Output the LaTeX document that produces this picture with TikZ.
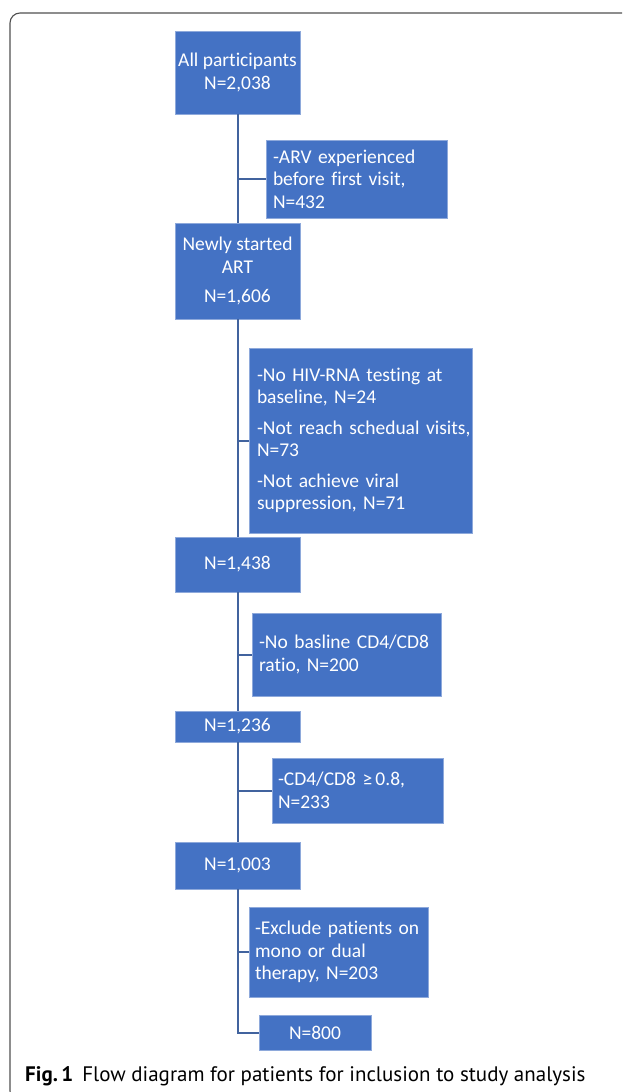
\documentclass[tikz,border=0pt]{standalone}
\usepackage{fontspec}
\setmainfont{Carlito}[Ligatures={NoCommon}]
\newfontfamily\capfont{PT Sans}
\definecolor{boxblue}{HTML}{4472C4}
\definecolor{boxedge}{HTML}{8EA9DB}
\definecolor{linkblue}{HTML}{41639E}
\definecolor{framegray}{HTML}{505050}
\hyphenpenalty=10000
\exhyphenpenalty=10000
\tikzset{
  flowbox/.style={rectangle, fill=boxblue, draw=boxedge, line width=0.7pt, inner sep=0pt,
    text=white, font=\fontsize{19.5}{22.5}\selectfont, align=center},
  notebox/.style={flowbox, align=left},
  link/.style={draw=linkblue, line width=2pt},
}
\begin{document}
\begin{tikzpicture}[x=1pt,y=-1pt]
\useasboundingbox (0,0) rectangle (622,1092);
\clip (0,0) rectangle (622,1092);
% frame
\draw[framegray, line width=1.1pt, rounded corners=10pt] (640,1101) -- (10,1101) -- (10,13) -- (640,13);

% main column
\node[flowbox, minimum width=125pt, minimum height=83pt] (b1) at (237.5,72.5) {All participants\\N=2,038};
\node[flowbox, minimum width=125pt, minimum height=96pt] (b3) at (237.5,271) {Newly started\\ART\\[7pt]N=1,606};
\node[flowbox, minimum width=125pt, minimum height=55pt] (b5) at (237.5,564.5) {N=1,438};
\node[flowbox, minimum width=125pt, minimum height=31pt] (b7) at (237.5,726.5) {N=1,236};
\node[flowbox, minimum width=125pt, minimum height=47pt] (b9) at (237.5,865.5) {N=1,003};
\node[flowbox, minimum width=112pt, minimum height=35pt] (b11) at (315,1032.5) {N=800};

% exclusion boxes
\node[notebox, minimum width=181pt, minimum height=78pt, text width=167pt] (b2) at (356.5,179)
  {-ARV experienced\\before first visit,\\N=432};
\node[notebox, minimum width=223pt, minimum height=185pt, text width=207pt] (b4) at (360.5,440.5)
  {\mbox{-No HIV-RNA testing at}\\\mbox{baseline, N=24}\\[8pt]\mbox{-Not reach schedual visits,}\\N=73\\[8pt]\mbox{-Not achieve viral}\\\mbox{suppression, N=71}};
\node[notebox, minimum width=189pt, minimum height=83pt, text width=175pt] (b6) at (346.5,654.5)
  {-No basline CD4/CD8\\ratio, N=200};
\node[notebox, minimum width=171pt, minimum height=65pt, text width=159pt] (b8) at (357.5,790.5)
  {-CD4/CD8 ≥\,0.8,\\N=233};
\node[notebox, minimum width=179pt, minimum height=90pt, text width=167pt] (b10) at (338.5,952)
  {-Exclude patients on\\mono or dual\\therapy, N=203};

% connectors
\draw[link] (b1.south) -- (b3.north);
\draw[link] (b1.south |- b2.west) -- (b2.west);
\draw[link] (b3.south) -- (b5.north);
\draw[link] (b3.south |- b4.west) -- (b4.west);
\draw[link] (b5.south) -- (b7.north);
\draw[link] (b5.south |- b6.west) -- (b6.west);
\draw[link] (b7.south) -- (b9.north);
\draw[link] (b7.south |- b8.west) -- (b8.west);
\draw[link] (b9.south) |- (b11.west);
\draw[link] (b9.south |- b10.west) -- (b10.west);

% caption
\node[anchor=base west, inner sep=0pt, font=\capfont\fontsize{21}{24}\selectfont] (cap) at (25,1081)
  {\textbf{Fig.\,1}\hspace{9pt}Flow diagram for patients for inclusion to study analysis};
\end{tikzpicture}
\end{document}
